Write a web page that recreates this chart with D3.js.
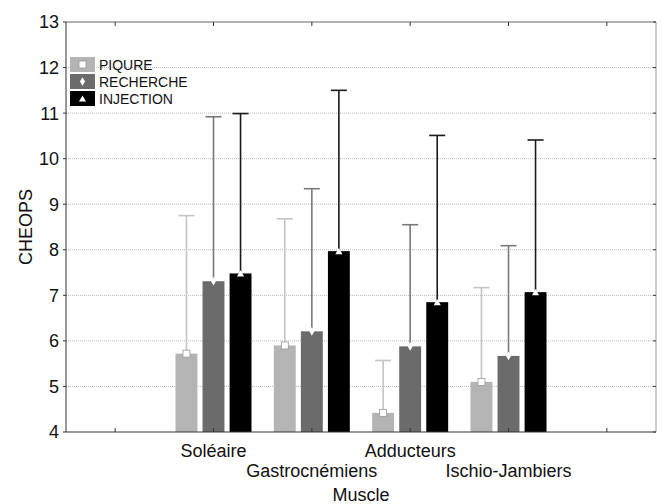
<!DOCTYPE html>
<meta charset="utf-8">
<style>
body { margin: 0; background: #fff; }
text { font-family: "Liberation Sans", Arial, sans-serif; }
.grid line { stroke: #b8b8b8; stroke-dasharray: 1,1; }
</style>
<svg width="664" height="504"></svg>
<script src="https://d3js.org/d3.v7.min.js"></script>
<script>

var muscles = ["Soléaire", "Gastrocnémiens", "Adducteurs", "Ischio-Jambiers"];
var groups = ["PIQURE", "RECHERCHE", "INJECTION"];
var piqureMean = [5.72, 5.90, 4.42, 5.10];
var piqureUpper = [8.75, 8.68, 5.57, 7.17];
var rechercheMean = [7.31, 6.21, 5.88, 5.67];
var rechercheUpper = [10.92, 9.34, 8.55, 8.09];
var injectionMean = [7.48, 7.97, 6.85, 7.07];
var injectionUpper = [10.99, 11.50, 10.51, 10.41];
var yTicks = [4, 5, 6, 7, 8, 9, 10, 11, 12, 13];

var fills = ["#b4b4b4", "#6b6b6b", "#000000"];
var errColors = ["#c4c4c4", "#7a7a7a", "#1a1a1a"];
var means = [piqureMean, rechercheMean, injectionMean];
var uppers = [piqureUpper, rechercheUpper, injectionUpper];

var svg = d3.select("svg"),
    margin = {left: 66, right: 8, top: 22, bottom: 72},
    width = 664 - margin.left - margin.right,
    height = 504 - margin.top - margin.bottom;

var slots = ["_a"].concat(muscles, ["_b"]);

var x = d3.scaleBand().domain(slots).range([0, width]);
var x1 = d3.scaleBand().domain(groups).range([0, 76]).paddingInner(0.19);
var y = d3.scaleLinear().domain([4, 13]).range([height, 0]);

var g = svg.append("g").attr("transform", "translate(" + margin.left + "," + margin.top + ")");

// grid
g.append("g").attr("class", "grid")
  .selectAll("line")
  .data(yTicks.slice(1, -1))
  .enter().append("line")
    .attr("x1", 0).attr("x2", width)
    .attr("y1", function(d) { return y(d); })
    .attr("y2", function(d) { return y(d); });

var rows = [];
muscles.forEach(function(m, i) {
  groups.forEach(function(s, j) {
    rows.push({muscle: m, series: j, mean: means[j][i], upper: uppers[j][i]});
  });
});

function bx(d) { return x(d.muscle) + (x.bandwidth() - 76) / 2 + x1(groups[d.series]); }

// error lines
g.selectAll(".err")
  .data(rows)
  .enter().append("g")
    .attr("class", "err")
    .attr("stroke", function(d) { return errColors[d.series]; })
    .attr("stroke-width", 1.6)
    .each(function(d) {
      var cx = bx(d) + x1.bandwidth() / 2;
      d3.select(this).append("line")
        .attr("x1", cx).attr("x2", cx)
        .attr("y1", y(d.mean)).attr("y2", y(d.upper));
      d3.select(this).append("line")
        .attr("x1", cx - 8).attr("x2", cx + 8)
        .attr("y1", y(d.upper)).attr("y2", y(d.upper));
    });

// bars
g.selectAll(".bar")
  .data(rows)
  .enter().append("rect")
    .attr("class", "bar")
    .attr("x", bx)
    .attr("width", x1.bandwidth())
    .attr("y", function(d) { return y(d.mean); })
    .attr("height", function(d) { return height - y(d.mean); })
    .attr("fill", function(d) { return fills[d.series]; });

function marker(sel, k, cx, cy) {
  if (k === 0) {
    sel.append("rect").attr("x", cx - 3.5).attr("y", cy - 3.5).attr("width", 7).attr("height", 7)
      .attr("fill", "#fff").attr("stroke", "#999").attr("stroke-width", 0.8);
  } else if (k === 1) {
    sel.append("path").attr("d", d3.symbol(d3.symbolDiamond, 22)())
      .attr("transform", "translate(" + cx + "," + cy + ")").attr("fill", "#fff");
  } else {
    sel.append("path").attr("d", d3.symbol(d3.symbolTriangle, 22)())
      .attr("transform", "translate(" + cx + "," + (cy + 1) + ")").attr("fill", "#fff");
  }
}

rows.forEach(function(d) {
  marker(g, d.series, bx(d) + x1.bandwidth() / 2, y(d.mean));
});

// axes
var axisColor = "#333";
g.append("line").attr("x1", 0).attr("x2", width).attr("y1", height).attr("y2", height).attr("stroke", axisColor);
g.append("line").attr("x1", 0).attr("x2", width).attr("y1", 0).attr("y2", 0).attr("stroke", "#666");
g.append("line").attr("x1", 0).attr("x2", 0).attr("y1", 0).attr("y2", height).attr("stroke", axisColor);
g.append("line").attr("x1", width).attr("x2", width).attr("y1", 0).attr("y2", height).attr("stroke", "#999");

slots.forEach(function(s) {
  var cx = x(s) + x.bandwidth() / 2;
  g.append("line").attr("x1", cx).attr("x2", cx).attr("y1", height).attr("y2", height - 4).attr("stroke", axisColor);
  g.append("line").attr("x1", cx).attr("x2", cx).attr("y1", 0).attr("y2", 4).attr("stroke", axisColor);
});

yTicks.forEach(function(t) {
  g.append("line").attr("x1", -3).attr("x2", 0).attr("y1", y(t)).attr("y2", y(t)).attr("stroke", axisColor);
  g.append("line").attr("x1", width - 3).attr("x2", width).attr("y1", y(t)).attr("y2", y(t)).attr("stroke", axisColor);
  g.append("text")
    .attr("x", -7).attr("y", y(t)).attr("dy", "0.36em")
    .attr("text-anchor", "end").attr("font-size", 18).attr("fill", "#111")
    .text(t);
});

muscles.forEach(function(m, i) {
  g.append("text")
    .attr("x", x(m) + x.bandwidth() / 2)
    .attr("y", height + (i % 2 === 0 ? 25 : 45))
    .attr("text-anchor", "middle").attr("font-size", 18).attr("fill", "#111")
    .text(m);
});

g.append("text")
  .attr("x", width / 2).attr("y", height + 69)
  .attr("text-anchor", "middle").attr("font-size", 18).attr("fill", "#111")
  .text("Muscle");

svg.append("text")
  .attr("transform", "translate(32," + (margin.top + y(8.5)) + ") rotate(-90)")
  .attr("text-anchor", "middle").attr("font-size", 18).attr("fill", "#111")
  .text("CHEOPS");

// legend
var legend = svg.append("g").attr("transform", "translate(70,57)");
groups.forEach(function(s, j) {
  var row = legend.append("g").attr("transform", "translate(0," + j * 17 + ")");
  row.append("rect").attr("width", 25).attr("height", 15).attr("fill", fills[j]);
  marker(row, j, 12.5, 7.5);
  row.append("text").attr("x", 29).attr("y", 7.5).attr("dy", "0.36em")
    .attr("font-size", 14).attr("fill", "#111").text(s);
});

</script>
